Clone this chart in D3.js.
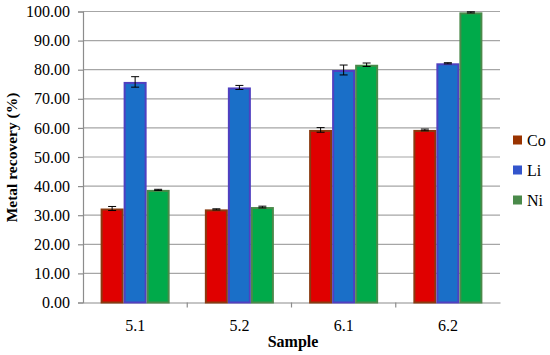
<!DOCTYPE html>
<html><head><meta charset="utf-8">
<script src="https://cdn.jsdelivr.net/npm/d3@7"></script>
<style>body{margin:0;background:#fff}svg{display:block}</style>
</head><body>
<svg id="c" width="550" height="355"></svg>
<script>
const categories = ["5.1","5.2","6.1","6.2"];
const series = ["Co","Li","Ni"];
const Co = [32.3, 32.0, 59.3, 59.3];
const Li = [75.8, 73.9, 79.9, 82.2];
const Ni = [38.7, 32.8, 81.7, 99.7];
const CoErr = [0.7, 0.2, 0.8, 0.3];
const LiErr = [1.8, 0.7, 1.7, 0.2];
const NiErr = [0.2, 0.3, 0.6, 0.2];
const yTicks = [0,10,20,30,40,50,60,70,80,90,100];

const values = {Co, Li, Ni};
const errs = {Co: CoErr, Li: LiErr, Ni: NiErr};
const fills = {Co:"#e00000", Li:"#1a6fc8", Ni:"#00aa4a"};
const strokes = {Co:"#8a3a10", Li:"#5040c0", Ni:"#4a8a4a"};
const legendCol = {Co:"#993300", Li:"#3355cc", Ni:"#4a8a4a"};

const font = "'Liberation Serif', 'DejaVu Serif', serif";
const svg = d3.select("#c");
const L=83, R=500, T=11.5, B=302.5;
const x = d3.scaleBand().domain(categories).range([L,R]).padding(0);
const x1 = d3.scaleBand().domain(series).range([0,x.bandwidth()]).paddingInner(0).paddingOuter(0.765);
const y = d3.scaleLinear().domain([0,100]).range([B,T]);

// gridlines
svg.append("g").selectAll("line").data(yTicks.filter(d=>d>0)).join("line")
  .attr("x1",L).attr("x2",R).attr("y1",d=>y(d)).attr("y2",d=>y(d))
  .attr("stroke","#a6a6a6").attr("stroke-width",1.2);

// y axis
const ya = svg.append("g").attr("transform",`translate(${L},0)`)
  .call(d3.axisLeft(y).tickValues(yTicks).tickFormat(d3.format(".2f")).tickSize(5).tickPadding(8));
ya.select(".domain").attr("stroke","#8c8c8c").attr("stroke-width",1.2);
ya.selectAll(".tick line").attr("stroke","#8c8c8c").attr("stroke-width",1.2);
ya.selectAll("text").attr("font-family",font).attr("font-size",16).attr("fill","#000");

// x axis
const xa = svg.append("g").attr("transform",`translate(0,${B})`)
  .call(d3.axisBottom(x).tickSize(0).tickPadding(17));
xa.select(".domain").attr("stroke","#8c8c8c").attr("stroke-width",1.2);
xa.selectAll("text").attr("font-family",font).attr("font-size",16).attr("fill","#000");
svg.append("g").selectAll("line").data(categories.slice(1)).join("line")
  .attr("x1",d=>x(d)).attr("x2",d=>x(d)).attr("y1",B).attr("y2",B+5)
  .attr("stroke","#8c8c8c").attr("stroke-width",1.2);

// bars
const g = svg.append("g");
categories.forEach((c,i)=>{
  series.forEach(s=>{
    const v = values[s][i], e = errs[s][i];
    const bx = x(c)+x1(s), bw = x1.bandwidth();
    g.append("rect").attr("x",bx+1).attr("y",y(v)+1).attr("width",bw-2).attr("height",B-y(v)-1)
      .attr("fill",fills[s]).attr("stroke",strokes[s]).attr("stroke-width",2);
    const cx = bx+bw/2;
    g.append("line").attr("x1",cx).attr("x2",cx).attr("y1",y(v+e)).attr("y2",y(v-e)).attr("stroke","#000").attr("stroke-width",1);
    [v+e,v-e].forEach(t=>g.append("line").attr("x1",cx-4).attr("x2",cx+4).attr("y1",y(t)).attr("y2",y(t)).attr("stroke","#000").attr("stroke-width",1));
  });
});

// axis titles
svg.append("text").attr("x",293).attr("y",347).attr("text-anchor","middle")
  .attr("font-family",font).attr("font-size",16).attr("font-weight","bold").text("Sample");
svg.append("text").attr("transform","translate(16.5,157.5) rotate(-90)").attr("text-anchor","middle")
  .attr("font-family",font).attr("font-size",15.5).attr("font-weight","bold").text("Metal recovery (%)");

// legend
const lg = svg.append("g");
series.forEach((s,i)=>{
  const ly = 140 + i*30;
  lg.append("rect").attr("x",513).attr("y",ly-4.5).attr("width",9).attr("height",9).attr("fill",legendCol[s]);
  lg.append("text").attr("x",527).attr("y",ly+5.5).attr("font-family",font).attr("font-size",16).text(s);
});
</script>
</body></html>
